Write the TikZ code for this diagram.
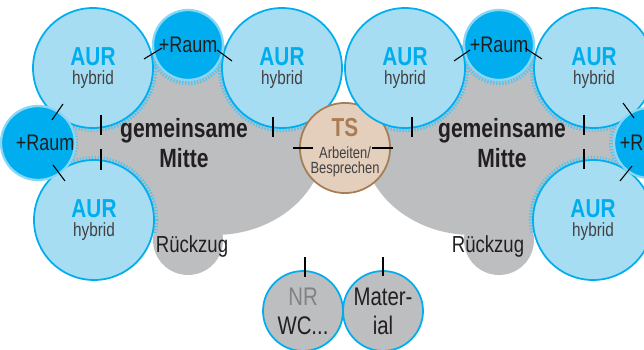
\documentclass[tikz,border=0pt]{standalone}
\usepackage{fontspec}
\setmainfont{Liberation Sans}[FakeStretch=0.8]
\usetikzlibrary{backgrounds}

\definecolor{aurcyan}{HTML}{00AEEF}
\definecolor{aurfill}{HTML}{A6DDF2}
\definecolor{haloblue}{HTML}{8AD7F5}
\definecolor{tickblue}{HTML}{55C5F0}
\definecolor{midgray}{HTML}{BCBEC0}
\definecolor{tsfill}{HTML}{E3CFBB}
\definecolor{tsbrown}{HTML}{A87D55}
\definecolor{darktext}{HTML}{414042}
\definecolor{inktext}{HTML}{231F20}
\definecolor{nrgray}{HTML}{808285}

\begin{document}
\begin{tikzpicture}[x=0.02cm, y=-0.02cm,
  aur/.style={circle, fill=aurfill, draw=aurcyan, line width=1pt, minimum size=2.4cm, inner sep=0pt,
    align=center, text=darktext, font=\fontsize{10.9}{11.3}\selectfont},
  raum/.style={circle, fill=aurcyan, draw=haloblue, line width=1.3pt, minimum size=1.4cm, inner sep=0pt,
    text=inktext, font=\fontsize{12.8}{14}\selectfont},
  ts/.style={circle, fill=tsfill, draw=tsbrown, line width=1pt, minimum size=1.68cm, inner sep=0pt,
    align=center, text=darktext, font=\fontsize{9.2}{8.5}\selectfont},
  side/.style={circle, fill=midgray, draw=aurcyan, line width=1pt, minimum size=1.6cm, inner sep=0pt,
    align=center, text=inktext, font=\fontsize{14.5}{16.5}\selectfont},
  mitte/.style={align=center, text=inktext, font=\fontsize{15}{17}\selectfont\bfseries},
  rueck/.style={text=inktext, font=\fontsize{13.2}{14}\selectfont},
  door/.style={black, line width=0.6pt},
  tickring/.style={tickblue, line width=2.4pt, dash pattern=on 0.6pt off 1.1pt}]

\useasboundingbox (0,0) rectangle (644,350);

% left group
\node[aur] at (93,68) (AURL1) {{\fontsize{14.8}{15}\selectfont\bfseries\color{aurcyan}AUR}\\hybrid};
\node[aur] at (282,68) (AURL2) {{\fontsize{14.8}{15}\selectfont\bfseries\color{aurcyan}AUR}\\hybrid};
\node[aur] at (94,220) (AURL3) {{\fontsize{14.8}{15}\selectfont\bfseries\color{aurcyan}AUR}\\hybrid};
\node[raum] at (188,45) (RAUML1) {+Raum};
\node[raum] at (38,143) (RAUML2) {\hspace{8pt}+Raum};
\node[mitte] at (184,143) (MITTEL) {gemeinsame\\Mitte};
\node[rueck] at (192,247) (RUECKL) {Rückzug};

% middle
\node[ts] at (345,148) (TS) {{\fontsize{14.8}{15}\selectfont\bfseries\color{tsbrown}TS}\\[4pt]Arbeiten/\\Besprechen};

% right group
\node[aur] at (405,68) (AURR1) {{\fontsize{14.8}{15}\selectfont\bfseries\color{aurcyan}AUR}\\hybrid};
\node[aur] at (594,68) (AURR2) {{\fontsize{14.8}{15}\selectfont\bfseries\color{aurcyan}AUR}\\hybrid};
\node[aur] at (593,220) (AURR3) {{\fontsize{14.8}{15}\selectfont\bfseries\color{aurcyan}AUR}\\hybrid};
\node[raum] at (499,45) (RAUMR1) {+Raum};
\node[raum] at (649,143) (RAUMR2) {+Raum};
\node[mitte] at (502,143) (MITTER) {gemeinsame\\Mitte};
\node[rueck] at (488,247) (RUECKR) {Rückzug};

% bottom
\node[side] at (303,311) (NR) {\textcolor{nrgray}{NR}\\WC...};
\node[side] at (383,311) (MAT) {Mater-\\ial};

% doors
\draw[door] (144,59) -- (162,48);
\draw[door] (217,50) -- (232,61);
\draw[door] (63,104) -- (52,120);
\draw[door] (53,165) -- (65,181);
\draw[door] (101,115) -- (101,135);
\draw[door] (101,149) -- (101,170);
\draw[door] (273,117) -- (273,137);
\draw[door] (293,148) -- (313,148);
\draw[door] (372,148) -- (393,148);
\draw[door] (454,61) -- (470,50);
\draw[door] (525,48) -- (542,59);
\draw[door] (412,117) -- (412,137);
\draw[door] (584,115) -- (584,135);
\draw[door] (584,149) -- (584,169);
\draw[door] (623,103) -- (634,118);
\draw[door] (620,181) -- (632,166);
\draw[door] (305,257) -- (305,277);
\draw[door] (383,257) -- (383,276);

\begin{scope}[on background layer]
  % common areas
  \fill[midgray] (93,68) -- (188,45) -- (282,68) -- (310,148) -- (188,240) -- (94,220) -- (38,143) -- cycle;
  \fill[midgray] (215,140) ellipse [x radius=2.2cm, y radius=1.9cm];
  \fill[midgray] (188,240) circle (0.7cm);
  \fill[midgray] (594,68) -- (499,45) -- (405,68) -- (377,148) -- (499,240) -- (593,220) -- (649,143) -- cycle;
  \fill[midgray] (472,140) ellipse [x radius=2.2cm, y radius=1.9cm];
  \fill[midgray] (499,240) circle (0.7cm);

  % ticks along the edges
  \begin{scope}
    \clip (93,68) -- (188,45) -- (282,68) -- (310,148) -- (188,240) -- (94,220) -- (38,143) -- cycle;
    \foreach \n/\r in {AURL1/1.24, AURL2/1.24, AURL3/1.24, RAUML1/0.76, RAUML2/0.76, TS/0.88}
      \draw[tickring] (\n.center) circle (\r cm);
  \end{scope}
  \begin{scope}
    \clip (215,140) ellipse [x radius=2.2cm, y radius=1.9cm];
    \foreach \n/\r in {AURL1/1.24, AURL2/1.24, AURL3/1.24, RAUML1/0.76, RAUML2/0.76, TS/0.88}
      \draw[tickring] (\n.center) circle (\r cm);
  \end{scope}
  \begin{scope}
    \clip (594,68) -- (499,45) -- (405,68) -- (377,148) -- (499,240) -- (593,220) -- (649,143) -- cycle;
    \foreach \n/\r in {AURR1/1.24, AURR2/1.24, AURR3/1.24, RAUMR1/0.76, RAUMR2/0.76, TS/0.88}
      \draw[tickring] (\n.center) circle (\r cm);
  \end{scope}
  \begin{scope}
    \clip (472,140) ellipse [x radius=2.2cm, y radius=1.9cm];
    \foreach \n/\r in {AURR1/1.24, AURR2/1.24, AURR3/1.24, RAUMR1/0.76, RAUMR2/0.76, TS/0.88}
      \draw[tickring] (\n.center) circle (\r cm);
  \end{scope}
\end{scope}

\end{tikzpicture}
\end{document}
